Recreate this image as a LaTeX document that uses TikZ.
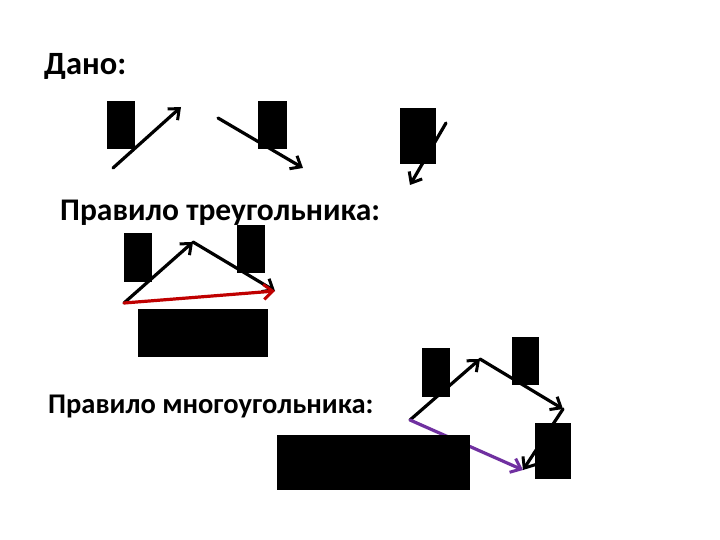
\documentclass[tikz,border=0pt]{standalone}
\usepackage{fontspec}
\setmainfont{Carlito}
\usetikzlibrary{arrows.meta}
\definecolor{vred}{RGB}{192,0,0}
\definecolor{vpurple}{RGB}{112,48,160}
\tikzset{
  box/.style={fill=black,draw=none},
  vec/.style={line width=3.2pt,-{Straight Barb[length=9pt,width=15pt,line width=3pt]},line cap=round,line join=round},
  title/.style={anchor=base west,inner sep=0pt,font=\bfseries\fontsize{31.5}{33}\selectfont},
}
\begin{document}
\begin{tikzpicture}[x=1pt,y=-1pt]
\useasboundingbox[fill=white] (0,0) rectangle (720,540);
% texts
\node[title,font=\bfseries\fontsize{32.5}{34}\selectfont] (t1) at (44,75) {Дано:};
\node[title] (t2) at (60,221) {Правило треугольника:};
\node[title,font=\bfseries\fontsize{28.5}{30}\selectfont] (t3) at (48,413) {Правило многоугольника:};
% given vectors
\coordinate (a1) at (113,168); \coordinate (a2) at (181,107);
\coordinate (b1) at (218,118); \coordinate (b2) at (303,168);
\coordinate (c1) at (446,123); \coordinate (c2) at (410,185);
\draw[vec] (a1) -- (a2);
\draw[vec] (b1) -- (b2);
\draw[vec] (c1) -- (c2);
\fill[box] (107,101) rectangle (135,149);
\fill[box] (258,101) rectangle (287,149);
\fill[box] (400,108) rectangle (436,164);
% triangle rule
\coordinate (p0) at (124,303); \coordinate (p1) at (193,242); \coordinate (p2) at (275,291);
\draw[vec] (p0) -- (p1);
\draw[vec] (p1) -- (p2);
\draw[vec,vred] (p0) -- (p2);
\fill[box] (124,233) rectangle (152,282);
\fill[box] (237,225) rectangle (265,273);
\fill[box] (138,309) rectangle (268,357);
% polygon rule
\coordinate (q0) at (410,420); \coordinate (q1) at (480,359); \coordinate (q2) at (563,409); \coordinate (q3) at (523,470);
\draw[vec] (q0) -- (q1);
\draw[vec] (q1) -- (q2);
\draw[vec] (q2) -- (q3);
\draw[vec,vpurple] (q0) -- (q3);
\fill[box] (422,348) rectangle (450,397);
\fill[box] (512,337) rectangle (539,385);
\fill[box] (535,423) rectangle (571,479);
\fill[box] (277,435) rectangle (470,490);
\end{tikzpicture}
\end{document}
